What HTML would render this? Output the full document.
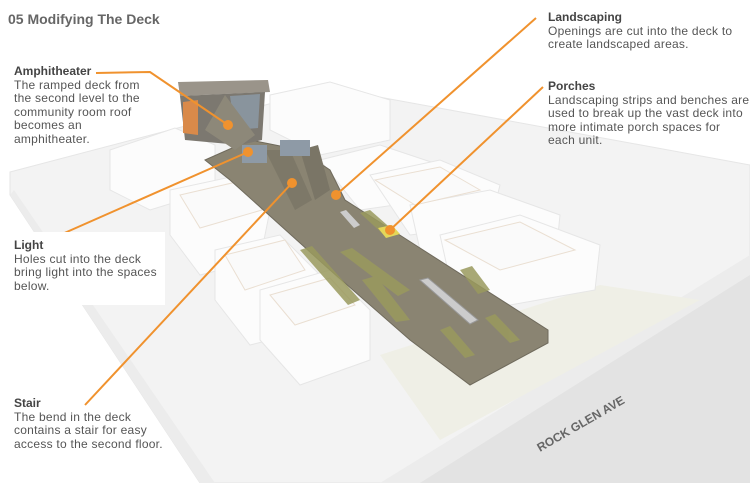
<!DOCTYPE html>
<html><head><meta charset="utf-8"><style>
body{margin:0;width:750px;height:483px;overflow:hidden;background:#fff;font-family:"Liberation Sans",sans-serif;position:relative}
.t{position:absolute;font-size:12px;line-height:13.6px;color:#555;letter-spacing:0.25px;white-space:nowrap}
.t b{color:#444;display:block;letter-spacing:0}
</style></head><body>
<svg width="750" height="483" style="position:absolute;left:0;top:0">
<!-- ground slab -->
<polygon points="10,172 330,88 750,165 750,275 420,483 200,483 10,195" fill="#f3f3f3" stroke="#e6e6e6"/>
<polygon points="10,195 200,483 215,483 14,190" fill="#ececec"/>
<!-- sidewalk & road -->
<polygon points="380,483 750,255 750,275 420,483" fill="#ececec"/>
<polygon points="420,483 750,275 750,483" fill="#e3e3e3"/>
<polygon points="380,355 600,285 700,300 440,440" fill="#efefe6"/>
<text x="540" y="452" transform="rotate(-30 540 452)" font-family="Liberation Sans" font-weight="bold" font-size="12" fill="#666">ROCK GLEN AVE</text>
<!-- houses -->
<g fill="#fcfcfc" stroke="#e6e6e6">
<polygon points="110,150 175,128 215,145 215,190 150,210 110,190"/>
<polygon points="270,95 330,82 390,100 390,140 320,155 270,130"/>
<polygon points="170,190 240,175 270,210 260,260 200,275 170,235"/>
<polygon points="215,250 280,235 320,275 310,330 250,345 215,300"/>
<polygon points="260,290 330,270 370,310 370,360 300,385 260,340"/>
<polygon points="320,160 380,145 440,165 430,200 360,210"/>
<polygon points="370,175 440,160 500,185 490,225 410,235"/>
<polygon points="410,205 490,190 560,215 555,265 470,280 420,250"/>
<polygon points="440,235 520,215 600,245 595,290 510,305 450,280"/>
</g>
<g fill="#fafafa" stroke="#eadfd2">
<polygon points="180,195 245,180 262,210 200,228"/>
<polygon points="225,255 285,240 305,270 245,290"/>
<polygon points="270,295 330,278 355,305 295,325"/>
<polygon points="375,180 440,167 480,190 415,205"/>
<polygon points="445,240 520,222 575,250 500,270"/>
</g>
<!-- deck -->
<polygon points="205,160 250,140 300,150 330,170 345,200 548,330 548,343 470,385 410,340 330,270 230,180" fill="#8a8472" stroke="#6f6a5c"/>
<polygon points="300,150 318,145 330,190 315,200" fill="#7a7566"/>
<polygon points="265,150 290,150 312,200 295,210" fill="#7d7868"/>
<g fill="#9a9a5e" opacity=".85">
<polygon points="340,252 352,248 410,290 398,296"/>
<polygon points="300,250 312,246 360,300 348,305"/>
<polygon points="362,280 376,276 410,320 396,322"/>
<polygon points="460,270 472,266 490,290 478,294"/>
<polygon points="485,318 495,314 520,340 510,343"/>
<polygon points="440,330 450,326 475,355 465,358"/>
<polygon points="360,213 370,210 395,232 385,236"/>
</g>
<polygon points="340,212 346,210 360,225 354,228" fill="#ccc"/>
<polygon points="420,280 428,278 478,320 470,324" fill="#ccc" stroke="#999"/>
<polygon points="378,228 392,225 400,234 386,238" fill="#e3d75a"/>
<!-- building -->
<polygon points="178,82 268,80 270,92 180,96" fill="#9a948a"/>
<polygon points="180,96 265,92 262,140 240,145 185,140" fill="#7c7870"/>
<polygon points="183,102 198,100 198,135 183,133" fill="#d98a4a"/>
<polygon points="230,96 260,94 258,128 235,130" fill="#8fa0b0" opacity=".7"/>
<polygon points="205,130 225,95 255,135 235,150" fill="#8d8879"/>
<rect x="242" y="145" width="25" height="18" fill="#8e9aa6"/>
<rect x="280" y="140" width="30" height="16" fill="#8e9aa6"/>
<!-- callouts -->
<g stroke="#f0922e" stroke-width="2" fill="none">
<polyline points="96,73 150,72 228,125"/>
<line x1="35" y1="246" x2="248" y2="152"/>
<line x1="85" y1="405" x2="292" y2="183"/>
<line x1="536" y1="18" x2="336" y2="195"/>
<line x1="543" y1="87" x2="390" y2="230"/>
</g>
<g fill="#f0922e"><circle cx="228" cy="125" r="5"/><circle cx="248" cy="152" r="5"/><circle cx="292" cy="183" r="5"/><circle cx="336" cy="195" r="5"/><circle cx="390" cy="230" r="5"/></g>
</svg>
<div style="position:absolute;left:8px;top:11px;font-size:14px;font-weight:bold;color:#666">05 Modifying The Deck</div>
<div class="t" style="left:14px;top:65px"><b>Amphitheater</b>The ramped deck from<br>the second level to the<br>community room roof<br>becomes an<br>amphitheater.</div>
<div style="position:absolute;left:0;top:232px;width:165px;height:73px;background:#fff"></div>
<div class="t" style="left:14px;top:239px"><b>Light</b>Holes cut into the deck<br>bring light into the spaces<br>below.</div>
<div class="t" style="left:14px;top:397px"><b>Stair</b>The bend in the deck<br>contains a stair for easy<br>access to the second floor.</div>
<div class="t" style="left:548px;top:11px"><b>Landscaping</b>Openings are cut into the deck to<br>create landscaped areas.</div>
<div class="t" style="left:548px;top:80px"><b>Porches</b>Landscaping strips and benches are<br>used to break up the vast deck into<br>more intimate porch spaces for<br>each unit.</div>
</body></html>
